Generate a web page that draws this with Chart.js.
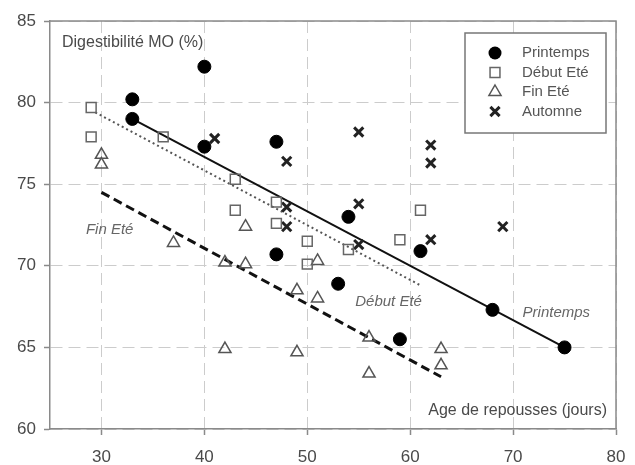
<!DOCTYPE html>
<html>
<head>
<meta charset="utf-8">
<script src="https://cdn.jsdelivr.net/npm/chart.js@4/dist/chart.umd.min.js"></script>
<style>
    html, body { margin: 0; padding: 0; background: #fff; }
    #wrap { width: 635px; height: 465px; }
</style>
</head>
<body>
<div id="wrap"><canvas id="digestChart" width="635" height="465"></canvas></div>
<script>
(function () {
    // values
    const xTicks = [30, 40, 50, 60, 70, 80];
    const yTicks = [60, 65, 70, 75, 80, 85];

    const printempsX = [33, 33, 40, 40, 47, 47, 54, 53, 61, 59, 68, 75];
    const printempsY = [80.2, 79.0, 82.2, 77.3, 77.6, 70.7, 73.0, 68.9, 70.9, 65.5, 67.3, 65.0];

    const debutEteX = [29, 29, 36, 43, 43, 47, 47, 50, 50, 54, 59, 61];
    const debutEteY = [79.7, 77.9, 77.9, 75.3, 73.4, 73.9, 72.6, 71.5, 70.1, 71.0, 71.6, 73.4];

    const finEteX = [30, 30, 37, 42, 42, 44, 44, 49, 49, 51, 51, 56, 56, 63, 63];
    const finEteY = [76.8, 76.2, 71.4, 70.2, 64.9, 72.4, 70.1, 68.5, 64.7, 70.3, 68.0, 65.6, 63.4, 64.9, 63.9];

    const automneX = [41, 48, 48, 48, 55, 55, 55, 62, 62, 62, 69];
    const automneY = [77.8, 76.4, 73.6, 72.4, 78.2, 73.8, 71.3, 77.4, 76.3, 71.6, 72.4];

    // regression lines (end points)
    const printempsFitX = [33, 75];
    const printempsFitY = [79.0, 65.0];
    const debutFitX = [29.4, 61];
    const debutFitY = [79.4, 68.8];
    const finFitX = [30, 63];
    const finFitY = [74.5, 63.2];

    const seriesNames = ["Printemps", "Début Eté", "Fin Eté", "Automne"];

    const toPoints = (xs, ys) => xs.map((x, i) => ({ x: x, y: ys[i] }));
    const FONT = "'Liberation Sans', Arial, sans-serif";
    const TEXT = "#4a4a4a";

    var styles = {
        circle: { pointStyle: "circle", radius: 6.5, fill: "#000", stroke: "#000", width: 1 },
        rect: { pointStyle: "rect", radius: 7, fill: "rgba(255,255,255,0)", stroke: "#666", width: 1.5 },
        triangle: { pointStyle: "triangle", radius: 7, fill: "rgba(255,255,255,0)", stroke: "#555", width: 1.5 },
        crossRot: { pointStyle: "crossRot", radius: 6.5, fill: "#222", stroke: "#222", width: 3 },
    };
    var order = ["circle", "rect", "triangle", "crossRot"];

    function scatterSet(label, data, st) {
        return {
            label: label,
            data: data,
            showLine: false,
            pointStyle: st.pointStyle,
            pointRadius: st.radius,
            pointHoverRadius: st.radius,
            pointBackgroundColor: st.fill,
            pointBorderColor: st.stroke,
            pointBorderWidth: st.width,
            order: 1,
        };
    }

    function fitSet(label, data, color, width, dash) {
        return {
            label: label,
            data: data,
            showLine: true,
            borderColor: color,
            borderWidth: width,
            borderDash: dash,
            pointRadius: 0,
            fill: false,
            order: 2,
        };
    }

    var datasets = [
        fitSet("fitPrintemps", toPoints(printempsFitX, printempsFitY), "#111", 2, []),
        fitSet("fitDebut", toPoints(debutFitX, debutFitY), "#555", 2, [2, 3]),
        fitSet("fitFin", toPoints(finFitX, finFitY), "#111", 3, [9, 5]),
        scatterSet(seriesNames[0], toPoints(printempsX, printempsY), styles.circle),
        scatterSet(seriesNames[1], toPoints(debutEteX, debutEteY), styles.rect),
        scatterSet(seriesNames[2], toPoints(finEteX, finEteY), styles.triangle),
        scatterSet(seriesNames[3], toPoints(automneX, automneY), styles.crossRot),
    ];

    function drawMarker(ctx, kind, x, y) {
        var st = styles[kind];
        var r = st.radius;
        ctx.save();
        ctx.lineWidth = st.width;
        ctx.strokeStyle = st.stroke;
        ctx.fillStyle = st.fill;
        ctx.beginPath();
        if (kind === "circle") {
            ctx.arc(x, y, r, 0, Math.PI * 2);
            ctx.fill();
        } else if (kind === "rect") {
            var s = r * Math.SQRT1_2;
            ctx.rect(x - s, y - s, 2 * s, 2 * s);
            ctx.stroke();
        } else if (kind === "triangle") {
            ctx.moveTo(x, y - r);
            ctx.lineTo(x + r * 0.866, y + r * 0.5);
            ctx.lineTo(x - r * 0.866, y + r * 0.5);
            ctx.closePath();
            ctx.stroke();
        } else {
            var d = r * Math.SQRT1_2;
            ctx.moveTo(x - d, y - d);
            ctx.lineTo(x + d, y + d);
            ctx.moveTo(x + d, y - d);
            ctx.lineTo(x - d, y + d);
            ctx.stroke();
        }
        ctx.restore();
    }

    // frame, in-plot labels and legend box
    var decorPlugin = {
        id: "decor",
        afterDraw: function (chart) {
            var ctx = chart.ctx;
            var a = chart.chartArea;
            var xs = chart.scales.x;
            var ys = chart.scales.y;

            ctx.save();
            ctx.strokeStyle = "#8a8a8a";
            ctx.lineWidth = 1.5;
            ctx.beginPath();
            ctx.moveTo(a.left, a.top);
            ctx.lineTo(a.right, a.top);
            ctx.lineTo(a.right, a.bottom);
            ctx.stroke();

            ctx.fillStyle = TEXT;
            ctx.font = "16px " + FONT;
            ctx.textBaseline = "middle";
            ctx.textAlign = "left";
            ctx.fillText("Digestibilité MO (%)", a.left + 12, a.top + 22);
            ctx.textAlign = "right";
            ctx.fillText("Age de repousses (jours)", a.right - 9, a.bottom - 18);

            ctx.fillStyle = "#666";
            ctx.font = "italic 15px " + FONT;
            ctx.textAlign = "center";
            ctx.fillText("Fin Eté", xs.getPixelForValue(30.8), ys.getPixelForValue(72.2));
            ctx.fillText("Début Eté", xs.getPixelForValue(57.9), ys.getPixelForValue(67.8));
            ctx.fillText("Printemps", xs.getPixelForValue(74.2), ys.getPixelForValue(67.1));

            // legend
            var lx = a.right - 151, ly = a.top + 12;
            ctx.fillStyle = "#fff";
            ctx.fillRect(lx, ly, 141, 100);
            ctx.strokeStyle = "#777";
            ctx.lineWidth = 1.5;
            ctx.strokeRect(lx, ly, 141, 100);
            ctx.font = "15px " + FONT;
            ctx.textAlign = "left";
            ctx.fillStyle = "#555";
            seriesNames.forEach(function (name, i) {
                var y = ly + 20 + i * 19.5;
                drawMarker(ctx, order[i], lx + 30, y);
                ctx.fillStyle = "#555";
                ctx.fillText(name, lx + 57, y);
            });
            ctx.restore();
        },
    };

    var axisColor = "#8a8a8a";
    var gridColor = "#cccccc";

    new Chart(document.querySelector("#digestChart"), {
        type: "scatter",
        data: { datasets: datasets },
        options: {
            responsive: false,
            animation: false,
            layout: { padding: { top: 21, right: 19, left: 0, bottom: 0 } },
            plugins: {
                legend: { display: false },
                tooltip: { enabled: false },
            },
            scales: {
                x: {
                    type: "linear",
                    min: 25,
                    max: 80,
                    afterBuildTicks: function (scale) {
                        scale.ticks = xTicks.map((v) => ({ value: v }));
                    },
                    afterFit: function (scale) {
                        scale.height = 36;
                        scale.paddingRight = 0;
                        scale.paddingLeft = 0;
                    },
                    grid: {
                        color: gridColor,
                        lineWidth: 1,
                        tickLength: 6,
                        tickColor: axisColor,
                        tickWidth: 1.5,
                        tickBorderDash: [],
                    },
                    border: { color: axisColor, width: 1.5, dash: [12, 6] },
                    ticks: {
                        color: TEXT,
                        font: { family: FONT, size: 17 },
                        padding: 12,
                        maxRotation: 0,
                    },
                },
                y: {
                    type: "linear",
                    min: 60,
                    max: 85,
                    afterBuildTicks: function (scale) {
                        scale.ticks = yTicks.map((v) => ({ value: v }));
                    },
                    afterFit: function (scale) {
                        scale.width = 50;
                        scale.paddingTop = 0;
                        scale.paddingBottom = 0;
                    },
                    grid: {
                        color: gridColor,
                        lineWidth: 1,
                        tickLength: 6,
                        tickColor: axisColor,
                        tickWidth: 1.5,
                        tickBorderDash: [],
                    },
                    border: { color: axisColor, width: 1.5, dash: [12, 6] },
                    ticks: {
                        color: TEXT,
                        font: { family: FONT, size: 17 },
                        padding: 8,
                    },
                },
            },
        },
        plugins: [decorPlugin],
    });
})();
</script>
</body>
</html>
